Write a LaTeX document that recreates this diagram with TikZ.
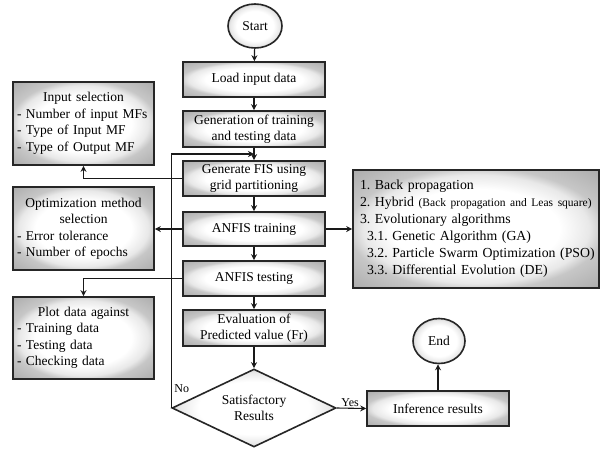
\documentclass[tikz,border=0pt]{standalone}
\usepackage{fontspec}
\setmainfont{Liberation Serif}
\usetikzlibrary{shapes.geometric,arrows.meta,calc}
\pgfdeclareradialshading{glow}{\pgfpoint{0bp}{0bp}}{color(0bp)=(white); color(17bp)=(white); color(23bp)=(black!9); color(26bp)=(black!22); color(35bp)=(black!32); color(50bp)=(black!32)}
\frenchspacing
\hbadness=10000 \hfuzz=50pt
\begin{document}
\begin{tikzpicture}[x=1pt,y=-1pt,
  every node/.style={font=\rmfamily\fontsize{13.5}{16.5}\selectfont},
  box/.style={draw=black!85, line width=1.6pt, rectangle, shading=glow, minimum width=142pt, inner sep=2pt, align=center},
  term/.style={draw=black!85, line width=1.6pt, ellipse, shading=glow, inner sep=0pt},
  dec/.style={draw=black!85, line width=1.6pt, diamond, shading=glow, aspect=2.1, inner sep=0pt, minimum width=164pt, minimum height=78pt, align=center},
  arr/.style={draw=black!90, line width=1.1pt, -{Stealth[length=6pt,width=6pt]}},
  lbl/.style={font=\rmfamily\fontsize{12}{14}\selectfont}
]
\useasboundingbox (0,0) rectangle (600,448);

\node[term, minimum width=54pt, minimum height=44pt] (start) at (255,26) {Start};
\node[box, minimum height=35pt] (load) at (254,79.5) {Load input data};
\node[box, minimum height=36pt] (gen) at (254,129) {Generation of training\\and testing data};
\node[box, minimum height=35pt] (fis) at (254,178.5) {Generate FIS using\\grid partitioning};
\node[box, minimum height=34pt] (train) at (254,229) {ANFIS training};
\node[box, minimum height=35pt] (test) at (254,278.5) {ANFIS testing};
\node[box, minimum height=36pt] (eval) at (254,328) {Evaluation of\\Predicted value (Fr)};
\node[dec] (dia) at (254,408) {Satisfactory\\Results};
\node[box, minimum height=35pt] (inf) at (438,408.5) {Inference results};
\node[term, minimum width=52pt, minimum height=45pt] (end) at (439,341) {End};

\node[box, minimum width=141pt, minimum height=83pt, text width=133pt, align=left] (insel) at (83.5,123.5)
  {\makebox[\linewidth][c]{Input selection}\\- Number of input MFs\\- Type of Input MF\\- Type of Output MF};
\node[box, minimum width=141pt, minimum height=83pt, text width=133pt, align=left] (opt) at (83.5,228.5)
  {\makebox[\linewidth][c]{Optimization method}\\\makebox[\linewidth][c]{selection}\\- Error tolerance\\- Number of epochs};
\node[box, minimum width=141pt, minimum height=82pt, text width=133pt, align=left] (plot) at (83.5,338)
  {\makebox[\linewidth][c]{Plot data against}\\- Training data\\- Testing data\\- Checking data};
\node[box, minimum width=246pt, minimum height=118pt, text width=232pt, inner xsep=1pt, align=left, font=\rmfamily\fontsize{13.8}{17}\selectfont] (rbox) at (476,229)
  {\mbox{1. Back propagation}\\\mbox{2. Hybrid {\fontsize{11.5}{17}\selectfont(Back propagation and Leas square)}}\\\mbox{3. Evolutionary algorithms}\\\mbox{\hspace*{7pt}3.1. Genetic Algorithm (GA)}\\\mbox{\hspace*{7pt}3.2. Particle Swarm Optimization (PSO)}\\\mbox{\hspace*{7pt}3.3. Differential Evolution (DE)}};

\draw[arr] (start) -- (load);
\draw[arr] (load) -- (gen);
\draw[arr] (gen) -- (fis);
\draw[arr] (fis) -- (train);
\draw[arr] (train) -- (test);
\draw[arr] (test) -- (eval);
\draw[arr] (eval) -- (dia);
\draw[arr] (fis.west) -| (insel.south);
\draw[arr] (train.west) -- (train.west -| opt.east);
\draw[arr] (test.west) -| (plot.north);
\draw[arr] (train.east) -- (train.east -| rbox.west);
\coordinate (fb) at ($(gen.south)!0.5!(fis.north)$);
\draw[arr] (dia.west) |- (fb);
\node[lbl, anchor=south west, inner sep=1pt] (no) at ([xshift=2pt,yshift=14pt]dia.west) {No};
\draw[arr] (dia.east) -- node[lbl, above, pos=0.45, inner sep=1pt] (yes) {Yes} (inf.west);
\draw[arr] (inf.north) -- (inf.north |- end.south);
\end{tikzpicture}
\end{document}
